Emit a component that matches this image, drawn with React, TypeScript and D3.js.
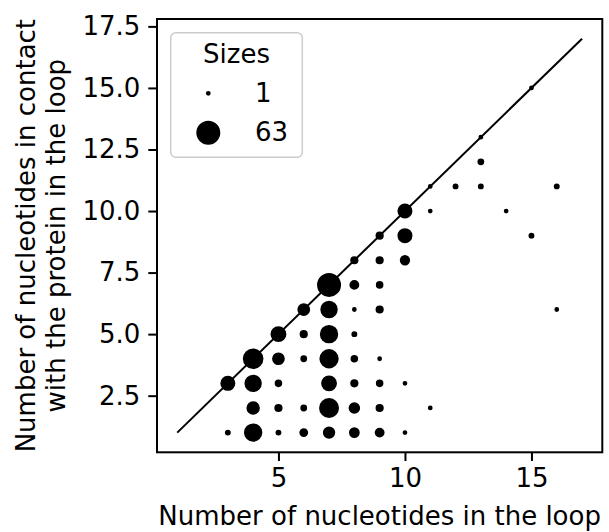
import React, { useRef, useEffect } from 'react';
import * as d3 from 'd3';

// loop length vs nucleotides in contact, one entry per (x, y) cell
const loopLength = [3, 4, 5, 6, 7, 8, 9, 10, 4, 5, 6, 7, 8, 9, 11, 3, 4, 5, 7, 8, 9, 10, 4, 5, 6, 7, 8, 9, 5, 6, 7, 8, 6, 7, 8, 9, 16, 7, 8, 9, 8, 9, 10, 9, 10, 15, 10, 11, 14, 11, 12, 13, 16, 13, 13, 15];
const inContact = [1, 1, 1, 1, 1, 1, 1, 1, 2, 2, 2, 2, 2, 2, 2, 3, 3, 3, 3, 3, 3, 3, 4, 4, 4, 4, 4, 4, 5, 5, 5, 5, 6, 6, 6, 6, 6, 7, 7, 7, 8, 8, 8, 9, 9, 9, 10, 10, 10, 11, 11, 11, 11, 12, 13, 15];
const counts = [2, 35, 2, 6, 14, 10, 8, 1, 17, 5, 3, 42, 12, 5, 1, 22, 31, 4, 25, 5, 4, 1, 45, 15, 3, 39, 4, 1, 25, 5, 35, 2, 15, 31, 1, 5, 1, 63, 8, 4, 5, 5, 9, 5, 22, 2, 22, 1, 1, 1, 2, 2, 2, 3, 1, 1];

const diagonal = [1, 17];
const legendSizes = [1, 63];
const xTicks = [5, 10, 15];
const yTicks = [2.5, 5.0, 7.5, 10.0, 12.5, 15.0, 17.5];

const W = 609;
const H = 532;
const FONT = 'DejaVu Sans';

const App: React.FC = () => {
  const svgRef = useRef<SVGSVGElement | null>(null);

  useEffect(() => {
    const svg = d3.select(svgRef.current);
    svg.selectAll('*').remove();

    const left = 157, right = 602.3, top = 19, bottom = 452.3;
    const x = d3.scaleLinear().domain([0.2, 17.8]).range([left, right]);
    const y = d3.scaleLinear().domain([0.2, 17.8]).range([bottom, top]);
    const r = d3.scaleSqrt().domain([0, 63]).range([0, 11]);

    svg.append('rect').attr('width', W).attr('height', H).attr('fill', '#fff');

    // diagonal y = x
    svg.append('line')
      .attr('x1', x(diagonal[0])).attr('y1', y(diagonal[0]))
      .attr('x2', x(diagonal[1])).attr('y2', y(diagonal[1]))
      .attr('stroke', '#000').attr('stroke-width', 2);

    const pts = counts.map((c, i) => ({ x: loopLength[i], y: inContact[i], c }));
    svg.append('g').selectAll('circle')
      .data(pts)
      .enter()
      .append('circle')
      .attr('cx', d => x(d.x))
      .attr('cy', d => y(d.y))
      .attr('r', d => r(d.c))
      .attr('fill', '#000')
      .attr('stroke', '#000')
      .attr('stroke-width', 2);

    // axes
    const xAxis = svg.append('g')
      .attr('transform', `translate(0,${bottom})`)
      .call(d3.axisBottom(x).tickValues(xTicks).tickSize(8.7).tickPadding(8).tickFormat(d3.format('d')));
    const yAxis = svg.append('g')
      .attr('transform', `translate(${left},0)`)
      .call(d3.axisLeft(y).tickValues(yTicks).tickSize(8.7).tickPadding(8).tickFormat(d3.format('.1f')));
    [xAxis, yAxis].forEach(a => {
      a.select('.domain').remove();
      a.selectAll('line').attr('stroke', '#000').attr('stroke-width', 2);
      a.selectAll('text').attr('font-family', FONT).attr('font-size', 26).attr('fill', '#000');
    });

    svg.append('rect')
      .attr('x', left).attr('y', top)
      .attr('width', right - left).attr('height', bottom - top)
      .attr('fill', 'none').attr('stroke', '#000').attr('stroke-width', 2);

    // axis labels
    svg.append('text')
      .attr('x', (left + right) / 2).attr('y', 525)
      .attr('text-anchor', 'middle')
      .attr('font-family', FONT).attr('font-size', 26)
      .text('Number of nucleotides in the loop');

    const yl = svg.append('text')
      .attr('transform', `translate(35,${(top + bottom) / 2}) rotate(-90)`)
      .attr('text-anchor', 'middle')
      .attr('font-family', FONT).attr('font-size', 26);
    yl.append('tspan').attr('x', 0).attr('y', 0).text('Number of nucleotides in contact');
    yl.append('tspan').attr('x', 0).attr('y', 30).text('with the protein in the loop');

    // legend
    const lg = svg.append('g');
    lg.append('rect')
      .attr('x', 170.7).attr('y', 32.7)
      .attr('width', 131.6).attr('height', 124.6)
      .attr('rx', 5).attr('fill', '#fff').attr('fill-opacity', 0.8)
      .attr('stroke', '#cccccc').attr('stroke-width', 1.5);
    lg.append('text')
      .attr('x', 236.5).attr('y', 63.3)
      .attr('text-anchor', 'middle')
      .attr('font-family', FONT).attr('font-size', 26)
      .text('Sizes');
    legendSizes.forEach((s, i) => {
      const cy = 93.3 + i * 39.4;
      lg.append('circle')
        .attr('cx', 208.3).attr('cy', cy).attr('r', r(s))
        .attr('fill', '#000').attr('stroke', '#000').attr('stroke-width', 2);
      lg.append('text')
        .attr('x', 255).attr('y', cy + 8.4)
        .attr('font-family', FONT).attr('font-size', 26)
        .text(String(s));
    });
  }, []);

  return <svg ref={svgRef} width={W} height={H} style={{ position: 'absolute', left: 0, top: 0 }}></svg>;
};

export default App;
